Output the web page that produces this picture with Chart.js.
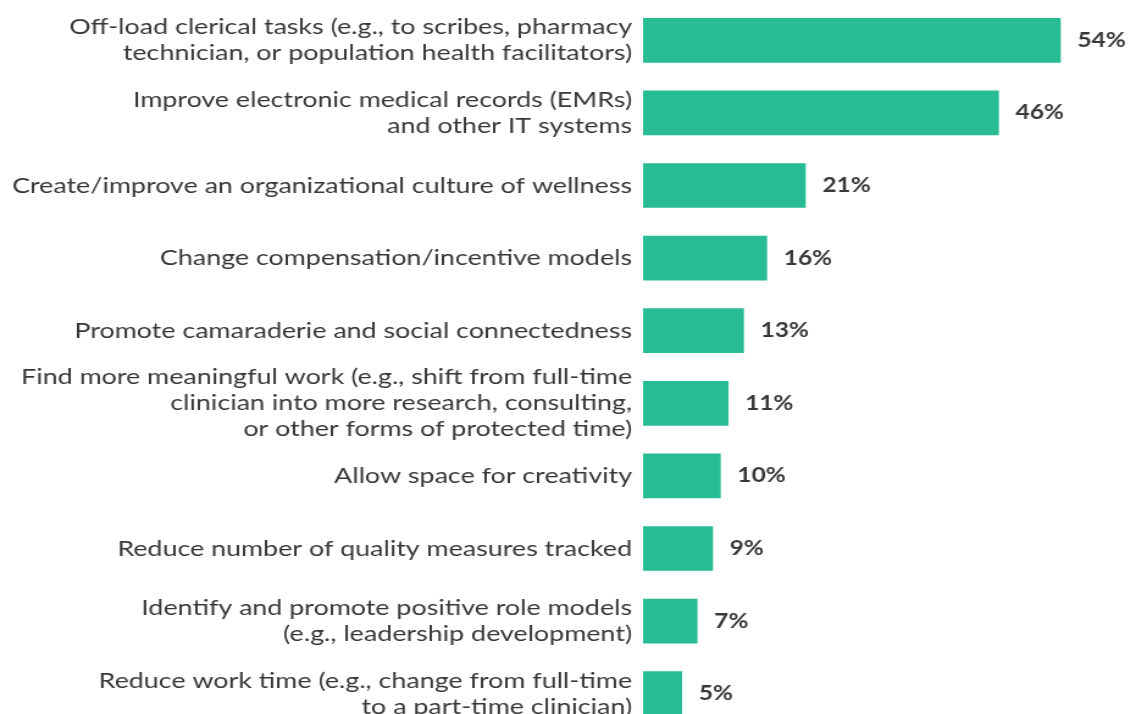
<!DOCTYPE html>
<html>
<head>
<meta charset="utf-8">
<script src="https://cdn.jsdelivr.net/npm/chart.js@4.4.0/dist/chart.umd.min.js"></script>
<style>
  html, body { margin: 0; padding: 0; background: #ffffff; overflow: hidden; }
  #wrap { width: 1136px; height: 714px; overflow: hidden; position: relative; }
  #c { position: absolute; left: 0; top: 0; width: 1136px; height: 730px; }
</style>
</head>
<body>
<div id="wrap"><canvas id="c" width="931" height="730" style="width:1136px;height:730px"></canvas></div>
<script>
const categories = [
  ["Off-load clerical tasks (e.g., to scribes, pharmacy", "technician, or population health facilitators)"],
  ["Improve electronic medical records (EMRs)", "and other IT systems"],
  "Create/improve an organizational culture of wellness",
  "Change compensation/incentive models",
  "Promote camaraderie and social connectedness",
  ["Find more meaningful work (e.g., shift from full-time", "clinician into more research, consulting,", "or other forms of protected time)"],
  "Allow space for creativity",
  "Reduce number of quality measures tracked",
  ["Identify and promote positive role models", "(e.g., leadership development)"],
  ["Reduce work time (e.g., change from full-time", "to a part-time clinician)"]
];
const values = [54, 46, 21, 16, 13, 11, 10, 9, 7, 5];
const valueLabels = ["54%", "46%", "21%", "16%", "13%", "11%", "10%", "9%", "7%", "5%"];

const valueLabelPlugin = {
  id: 'valueLabels',
  afterDatasetsDraw(chart) {
    const ctx = chart.ctx;
    const meta = chart.getDatasetMeta(0);
    ctx.save();
    ctx.font = 'bold 20px Lato';
    ctx.fillStyle = '#383838';
    ctx.textAlign = 'left';
    ctx.textBaseline = 'middle';
    meta.data.forEach((bar, i) => {
      const p = bar.getProps(['x', 'y'], true);
      ctx.fillText(valueLabels[i], p.x + 14, p.y);
    });
    ctx.restore();
  }
};

new Chart(document.getElementById('c'), {
  type: 'bar',
  data: {
    labels: categories,
    datasets: [{
      data: values,
      backgroundColor: '#27bc94',
      borderWidth: 0,
      barThickness: 44
    }]
  },
  options: {
    indexAxis: 'y',
    responsive: false,
    maintainAspectRatio: false,
    devicePixelRatio: 1,
    animation: false,
    layout: { padding: { top: 4, right: 24, bottom: 0, left: 0 } },
    plugins: { legend: { display: false }, tooltip: { enabled: false } },
    scales: {
      x: { display: false, min: 0, max: 60 },
      y: {
        afterFit(scale) { scale.width = 527; scale.paddingTop = 0; scale.paddingBottom = 0; },
        grid: { display: false },
        border: { display: false },
        ticks: {
          autoSkip: false,
          color: '#383838',
          padding: 1,
          font: { family: 'Lato', size: 22, lineHeight: 1.18 }
        }
      }
    }
  },
  plugins: [valueLabelPlugin]
});
</script>
</body>
</html>
